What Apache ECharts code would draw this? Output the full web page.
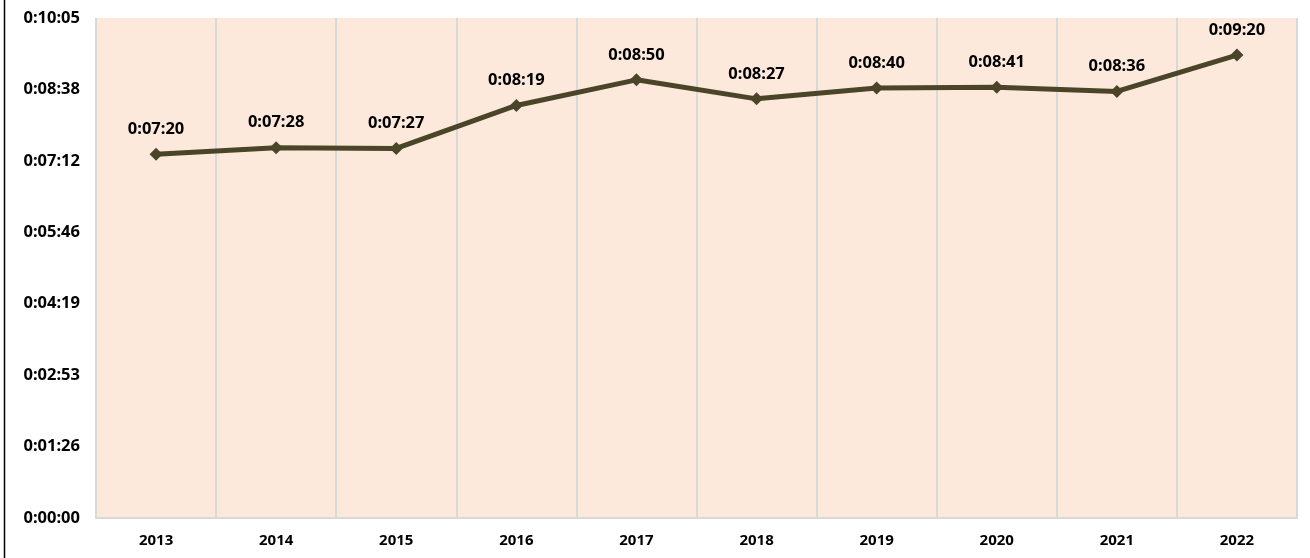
<!DOCTYPE html>
<html>
<head>
<meta charset="utf-8">
<script src="https://cdn.jsdelivr.net/npm/echarts@6/dist/echarts.min.js"></script>
<style>
  html, body { margin: 0; padding: 0; background: #fff; }
  #chart { width: 1310px; height: 558px; }
</style>
</head>
<body>
<div id="chart"></div>
<script>
var myChart = echarts.init(document.getElementById('chart'));

// years on the x axis
var years = ['2013', '2014', '2015', '2016', '2017', '2018', '2019', '2020', '2021', '2022'];
// durations in seconds (0:07:20 -> 440)
var durations = [440, 448, 447, 499, 530, 507, 520, 521, 516, 560];
// axis in Excel time units: 0.001 day steps
var yMax = 604.8;
var yStep = 86.4;

function fmtTime(sec) {
  var s = Math.round(sec);
  var h = Math.floor(s / 3600);
  var m = Math.floor((s % 3600) / 60);
  var ss = s % 60;
  return h + ':' + (m < 10 ? '0' : '') + m + ':' + (ss < 10 ? '0' : '') + ss;
}

var font = '"Noto Sans", "DejaVu Sans", sans-serif';

var option = {
  animation: false,
  backgroundColor: '#fff',
  textStyle: { fontFamily: font },
  grid: {
    left: 96,
    right: 13,
    top: 18,
    bottom: 40,
    show: true,
    backgroundColor: '#fce9db',
    borderWidth: 0
  },
  graphic: [{
    type: 'line',
    shape: { x1: 4.5, y1: 0, x2: 4.5, y2: 558 },
    style: { stroke: '#000', lineWidth: 1.5 }
  }],
  xAxis: {
    type: 'category',
    data: years,
    boundaryGap: true,
    axisLine: { show: true, lineStyle: { color: '#d9d9d9', width: 2 } },
    axisTick: { show: false },
    axisLabel: {
      color: '#000',
      fontWeight: 'bold',
      fontSize: 15,
      margin: 15,
      fontFamily: font
    },
    splitLine: { show: true, lineStyle: { color: '#d9d9d9', width: 2 } }
  },
  yAxis: {
    type: 'value',
    min: 0,
    max: yMax,
    interval: yStep,
    axisLine: { show: false },
    axisTick: { show: false },
    splitLine: { show: false },
    axisLabel: {
      color: '#000',
      fontWeight: 'bold',
      fontSize: 16.5,
      margin: 16,
      fontFamily: font,
      formatter: fmtTime
    }
  },
  series: [{
    type: 'line',
    data: durations,
    symbol: 'diamond',
    symbolSize: 13,
    lineStyle: { color: '#4a4528', width: 5 },
    itemStyle: { color: '#4a4528' },
    label: {
      show: true,
      position: 'top',
      distance: 10,
      color: '#000',
      fontWeight: 'bold',
      fontSize: 16.5,
      fontFamily: font,
      formatter: function (p) { return fmtTime(p.value); }
    }
  }]
};

myChart.setOption(option);
</script>
</body>
</html>
